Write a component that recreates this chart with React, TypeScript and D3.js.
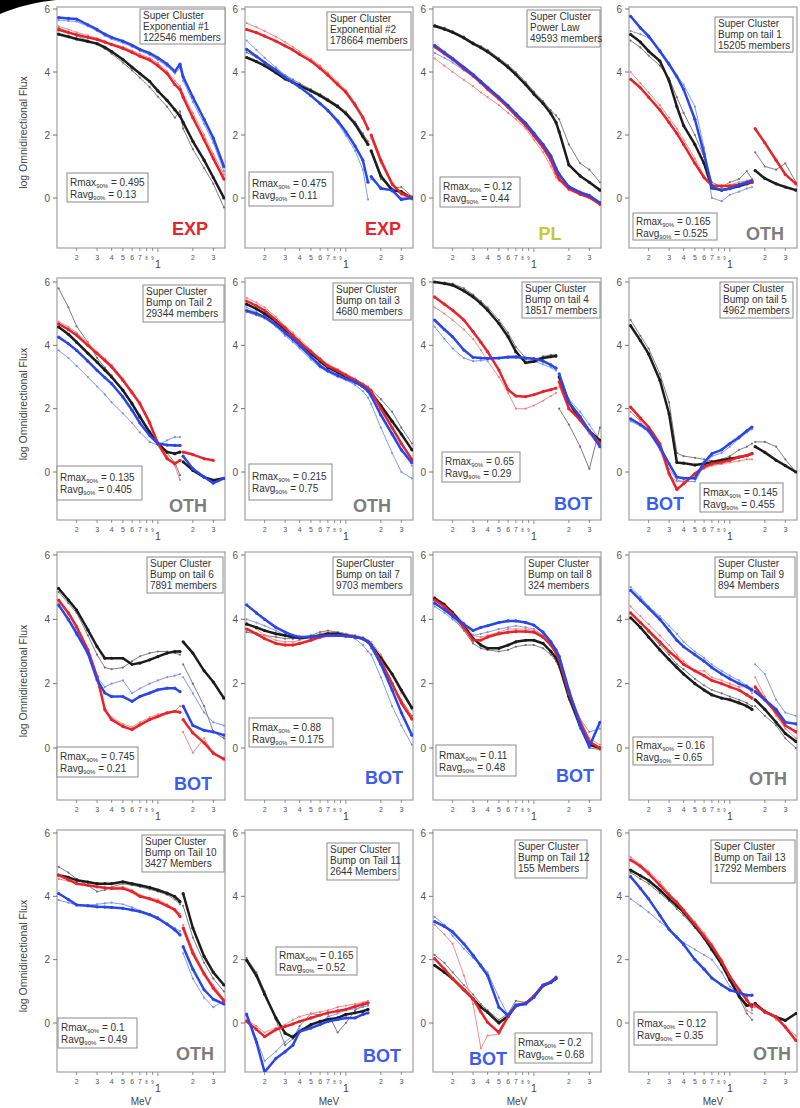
import React from 'react';
import * as d3 from 'd3';

const N = null;
// Energy grid (MeV) shared by every series
const ENERGY = [0.14, 0.17, 0.2, 0.25, 0.3, 0.35, 0.4, 0.5, 0.6, 0.7, 0.85, 1.0, 1.2, 1.4, 1.55, 1.65, 2.0, 2.5, 3.0, 3.7];

// Panel 1 - Exponential #1
const s01Black = [5.2, 5.12, 5.05, 4.97, 4.9, 4.78, 4.65, 4.4, 4.15, 3.95, 3.7, 3.4, 3.1, 2.8, 2.6, 2.4, 1.8, 1.2, 0.65, 0.0];
const s01BlackThin = [5.4, 5.28, 5.15, 5.0, 4.88, 4.74, 4.58, 4.3, 4.05, 3.82, 3.52, 3.22, 2.9, 2.55, 2.75, 2.2, 1.55, 0.95, 0.45, -0.3];
const s01Red = [5.34, 5.25, 5.18, 5.1, 5.03, 4.95, 4.87, 4.75, 4.62, 4.5, 4.38, 4.2, 3.95, 3.6, 3.45, 3.2, 2.55, 1.85, 1.25, 0.6];
const s01RedThin = [5.45, 5.35, 5.26, 5.16, 5.07, 4.98, 4.9, 4.8, 4.68, 4.57, 4.45, 4.28, 4.03, 3.72, 3.55, 3.3, 2.7, 2.0, 1.4, 0.75];
const s01Blue = [5.73, 5.7, 5.68, 5.5, 5.35, 5.2, 5.1, 4.98, 4.85, 4.72, 4.6, 4.45, 4.25, 4.02, 4.25, 3.85, 3.2, 2.5, 1.9, 1.0];
const s01BlueThin = [5.65, 5.62, 5.6, 5.45, 5.3, 5.15, 5.04, 4.92, 4.8, 4.67, 4.54, 4.38, 4.18, 3.95, 4.12, 3.72, 3.05, 2.35, 1.75, 0.85];

// Panel 2 - Exponential #2
const s02Black = [4.46, 4.33, 4.2, 3.98, 3.78, 3.67, 3.57, 3.4, 3.25, 3.1, 2.9, 2.68, 2.35, 1.95, 1.7, 1.5, 0.7, 0.25, 0.2, 0.0];
const s02BlackThin = [4.62, 4.47, 4.32, 4.1, 3.9, 3.76, 3.64, 3.45, 3.3, 3.15, 2.95, 2.74, 2.42, 2.05, 1.8, 1.45, 0.6, 0.3, 0.35, 0.05];
const s02Red = [5.35, 5.25, 5.14, 4.98, 4.83, 4.7, 4.56, 4.35, 4.12, 3.9, 3.6, 3.36, 2.95, 2.55, 2.2, 2.0, 1.2, 0.45, 0.15, 0.0];
const s02RedThin = [5.55, 5.42, 5.3, 5.12, 4.95, 4.8, 4.65, 4.42, 4.2, 3.98, 3.68, 3.42, 3.02, 2.6, 2.15, 1.9, 1.1, 0.4, 0.1, -0.05];
const s02Blue = [4.72, 4.5, 4.3, 4.05, 3.83, 3.67, 3.52, 3.25, 3.0, 2.78, 2.45, 2.1, 1.65, 1.2, 0.5, 0.68, 0.3, 0.25, -0.05, 0.0];
const s02BlueThin = [5.0, 4.7, 4.45, 4.15, 3.9, 3.72, 3.55, 3.25, 2.98, 2.74, 2.38, 1.98, 1.5, 0.9, -0.05, 0.6, 0.35, 0.2, 0.0, 0.0];

// Panel 3 - Power Law
const s03Black = [5.46, 5.36, 5.26, 5.08, 4.9, 4.77, 4.64, 4.38, 4.15, 3.92, 3.6, 3.3, 3.0, 2.68, 2.4, 2.1, 1.05, 0.7, 0.5, 0.25];
const s03BlackThin = [5.5, 5.4, 5.3, 5.12, 4.94, 4.82, 4.7, 4.44, 4.22, 4.0, 3.68, 3.38, 3.08, 2.78, 2.62, 2.5, 1.7, 1.1, 0.9, 0.5];
const s03Red = [4.8, 4.58, 4.4, 4.1, 3.88, 3.66, 3.45, 3.15, 2.88, 2.62, 2.3, 1.98, 1.6, 1.2, 0.8, 0.6, 0.3, 0.12, 0.02, -0.2];
const s03RedThin = [4.43, 4.2, 4.0, 3.75, 3.55, 3.35, 3.2, 2.95, 2.7, 2.5, 2.2, 1.85, 1.45, 1.0, 0.65, 0.55, 0.25, 0.1, 0.0, -0.2];
const s03Blue = [4.85, 4.62, 4.43, 4.15, 3.92, 3.7, 3.51, 3.2, 2.93, 2.68, 2.38, 2.06, 1.7, 1.34, 0.95, 0.75, 0.36, 0.18, 0.08, -0.15];
const s03BlueThin = [4.6, 4.45, 4.3, 4.05, 3.85, 3.65, 3.48, 3.18, 2.9, 2.65, 2.35, 2.02, 1.65, 1.3, 0.9, 0.8, 0.38, 0.2, 0.1, -0.15];

// Panel 4 - Bump on tail 1
const s04Black = [5.19, 4.95, 4.66, 4.35, 3.72, 2.9, 2.3, 1.7, 1.1, 0.32, 0.25, 0.3, 0.38, 0.45, 0.5, 0.87, 0.62, 0.45, 0.35, 0.25];
const s04BlackThin = [5.0, 4.78, 4.52, 4.2, 3.8, 3.2, 2.7, 2.0, 1.3, 0.5, 0.35, 0.5, 0.6, 0.85, 0.6, 1.45, 1.0, 0.9, 1.1, 0.5];
const s04Red = [3.77, 3.5, 3.2, 2.8, 2.4, 2.05, 1.7, 1.1, 0.65, 0.4, 0.38, 0.38, 0.42, 0.48, 0.5, 2.2, 1.75, 1.2, 0.75, 0.45];
const s04RedThin = [4.0, 3.65, 3.35, 2.95, 2.55, 2.2, 1.85, 1.25, 0.7, 0.4, 0.4, 0.42, 0.5, 0.55, 0.6, N, N, N, N, N];
const s04Blue = [5.77, 5.4, 5.14, 4.66, 4.24, 3.85, 3.45, 2.5, 1.4, 0.35, 0.25, 0.3, 0.42, 0.5, 0.55, N, N, N, N, N];
const s04BlueThin = [5.3, 5.2, 5.08, 4.7, 4.3, 3.9, 3.6, 2.9, 1.6, 0.0, -0.1, 0.1, 0.2, 0.3, 0.35, N, N, N, N, N];

// Panel 5 - Bump on Tail 2
const s05Black = [4.58, 4.35, 4.1, 3.75, 3.47, 3.22, 3.0, 2.58, 2.15, 1.74, 1.25, 0.9, 0.63, 0.58, 0.63, 0.32, 0.05, -0.16, -0.26, -0.2];
const s05BlackThin = [5.8, 5.2, 4.6, 4.1, 3.6, 3.3, 3.05, 2.6, 2.2, 1.8, 1.3, 0.95, 0.6, 0.3, -0.1, N, N, N, N, N];
const s05Red = [4.68, 4.5, 4.32, 4.0, 3.74, 3.52, 3.32, 2.9, 2.5, 2.16, 1.55, 0.9, 0.42, 0.26, 0.37, 0.63, 0.55, 0.42, 0.37, N];
const s05RedThin = [4.75, 4.58, 4.4, 4.08, 3.8, 3.58, 3.38, 2.95, 2.55, 2.2, 1.6, 0.95, 0.5, 0.2, -0.25, N, N, N, N, N];
const s05Blue = [4.26, 4.05, 3.84, 3.5, 3.21, 2.98, 2.79, 2.37, 1.95, 1.55, 1.15, 0.9, 0.85, 0.84, 0.84, 0.5, 0.1, -0.16, -0.35, -0.2];
const s05BlueThin = [3.84, 3.6, 3.35, 3.0, 2.7, 2.45, 2.2, 1.85, 1.55, 1.25, 0.95, 0.85, 1.0, 1.1, 1.1, N, N, N, N, N];

// Panel 6 - Bump on tail 3
const s06Black = [5.3, 5.15, 5.0, 4.75, 4.5, 4.3, 4.1, 3.75, 3.5, 3.3, 3.15, 3.0, 2.85, 2.7, 2.6, 2.5, 2.1, 1.6, 1.2, 0.7];
const s06BlackThin = [5.05, 4.95, 4.85, 4.6, 4.35, 4.15, 3.95, 3.6, 3.4, 3.2, 3.05, 2.9, 2.8, 2.7, 2.65, 2.6, 2.3, 1.9, 1.4, 0.9];
const s06Red = [5.4, 5.25, 5.1, 4.8, 4.55, 4.3, 4.1, 3.8, 3.55, 3.35, 3.2, 3.05, 2.9, 2.75, 2.65, 2.55, 2.0, 1.4, 0.9, 0.4];
const s06RedThin = [5.5, 5.35, 5.2, 4.9, 4.6, 4.4, 4.2, 3.85, 3.6, 3.4, 3.25, 3.1, 2.95, 2.8, 2.7, 2.5, 1.8, 1.2, 0.7, 0.2];
const s06Blue = [5.1, 5.0, 4.9, 4.65, 4.4, 4.2, 4.0, 3.65, 3.35, 3.2, 3.05, 2.95, 2.85, 2.7, 2.55, 2.4, 1.8, 1.2, 0.7, 0.3];
const s06BlueThin = [5.2, 5.05, 4.9, 4.6, 4.3, 4.1, 3.9, 3.55, 3.3, 3.15, 3.0, 2.9, 2.75, 2.55, 2.35, 2.15, 1.4, 0.6, 0.0, -0.2];

// Panel 7 - Bump on tail 4
const s07Black = [6.0, 5.95, 5.9, 5.72, 5.53, 5.32, 5.11, 4.69, 4.27, 3.8, 3.45, 3.49, 3.6, 3.64, 3.66, 3.0, 2.2, 1.65, 1.3, 1.0];
const s07BlackThin = [6.0, 5.98, 5.95, 5.8, 5.6, 5.4, 5.2, 4.8, 4.4, 3.95, 3.6, 3.55, 3.65, 3.7, 3.7, 2.0, 1.5, 0.8, 0.1, 1.4];
const s07Red = [5.53, 5.3, 5.11, 4.8, 4.43, 4.1, 3.8, 3.22, 2.6, 2.4, 2.38, 2.44, 2.54, 2.6, 2.65, 2.85, 2.0, 1.65, 1.3, 0.9];
const s07RedThin = [5.2, 5.0, 4.8, 4.5, 4.2, 3.85, 3.5, 3.0, 2.5, 2.0, 2.0, 2.1, 2.25, 2.4, 2.5, 2.7, 2.0, 1.6, 1.2, 0.8];
const s07Blue = [4.8, 4.5, 4.27, 3.85, 3.62, 3.6, 3.59, 3.6, 3.63, 3.64, 3.6, 3.58, 3.5, 3.38, 3.28, 3.1, 2.2, 1.75, 1.3, 0.8];
const s07BlueThin = [4.59, 4.2, 3.9, 3.6, 3.5, 3.52, 3.55, 3.58, 3.6, 3.6, 3.55, 3.5, 3.4, 3.3, 3.2, 3.0, 2.3, 1.9, 1.5, 1.0];

// Panel 8 - Bump on tail 5
const s08Black = [4.62, 4.15, 3.73, 2.9, 1.84, 0.3, 0.28, 0.22, 0.26, 0.31, 0.37, 0.42, 0.47, 0.52, 0.58, 0.8, 0.62, 0.37, 0.2, 0.0];
const s08BlackThin = [4.8, 4.3, 3.9, 3.1, 2.2, 0.6, 0.5, 0.45, 0.4, 0.35, 0.4, 0.5, 0.7, 0.8, 0.9, 0.95, 0.95, 0.8, 0.4, 0.0];
const s08Red = [2.05, 1.7, 1.42, 0.89, -0.05, -0.55, -0.37, -0.05, 0.16, 0.26, 0.31, 0.37, 0.47, 0.52, 0.58, N, N, N, N, N];
const s08RedThin = [1.9, 1.6, 1.3, 0.7, -0.1, -0.3, -0.3, -0.1, 0.1, 0.2, 0.25, 0.3, 0.35, 0.4, 0.4, N, N, N, N, N];
const s08Blue = [1.68, 1.5, 1.31, 0.79, 0.26, -0.16, -0.2, -0.2, 0.3, 0.58, 0.7, 0.9, 1.1, 1.3, 1.42, N, N, N, N, N];
const s08BlueThin = [1.6, 1.45, 1.25, 0.7, 0.1, -0.25, -0.3, -0.3, 0.2, 0.5, 0.6, 0.8, 1.05, 1.25, 1.35, N, N, N, N, N];

// Panel 9 - Bump on tail 6
const s09Black = [4.96, 4.6, 4.29, 3.67, 3.15, 2.79, 2.79, 2.79, 2.6, 2.64, 2.74, 2.84, 2.95, 3.0, 3.0, 3.3, 2.95, 2.4, 2.05, 1.55];
const s09BlackThin = [4.85, 4.5, 4.2, 3.5, 2.9, 2.5, 2.45, 2.5, 2.7, 2.85, 2.95, 3.0, 3.0, 2.95, 2.9, 2.6, 2.0, 1.3, 0.5, 0.3];
const s09Red = [4.6, 4.2, 3.77, 3.05, 2.22, 1.19, 0.88, 0.67, 0.57, 0.72, 0.88, 0.98, 1.09, 1.14, 1.11, 0.88, 0.47, 0.16, -0.16, -0.35];
const s09RedThin = [4.55, 4.15, 3.7, 3.0, 2.1, 1.2, 0.95, 0.75, 0.65, 0.8, 0.95, 1.05, 1.1, 1.15, 1.3, 0.5, -0.15, 0.3, -0.2, -0.3];
const s09Blue = [4.45, 4.0, 3.57, 2.95, 2.12, 1.71, 1.6, 1.6, 1.45, 1.6, 1.71, 1.81, 1.86, 1.86, 1.75, 1.3, 0.7, 0.55, 0.5, 0.4];
const s09BlueThin = [4.4, 3.95, 3.5, 2.9, 2.2, 1.9, 2.0, 2.1, 1.7, 1.85, 2.0, 2.1, 2.2, 2.25, 2.3, 2.2, 1.7, 1.1, 0.8, 0.7];

// Panel 10 - Bump on tail 7
const s10Black = [3.85, 3.75, 3.65, 3.55, 3.5, 3.45, 3.42, 3.45, 3.5, 3.55, 3.55, 3.5, 3.45, 3.4, 3.3, 3.2, 2.8, 2.3, 1.8, 1.25];
const s10BlackThin = [3.6, 3.55, 3.5, 3.45, 3.4, 3.4, 3.45, 3.5, 3.6, 3.65, 3.6, 3.55, 3.5, 3.4, 3.3, 3.1, 2.6, 2.0, 1.5, 1.0];
const s10Red = [3.7, 3.55, 3.4, 3.25, 3.2, 3.2, 3.25, 3.35, 3.45, 3.5, 3.5, 3.48, 3.45, 3.4, 3.3, 3.2, 2.7, 2.0, 1.4, 0.9];
const s10RedThin = [3.9, 3.7, 3.5, 3.35, 3.3, 3.3, 3.35, 3.45, 3.55, 3.6, 3.6, 3.55, 3.5, 3.45, 3.35, 3.3, 2.9, 2.3, 1.7, 1.2];
const s10Blue = [4.45, 4.2, 4.0, 3.75, 3.6, 3.5, 3.45, 3.45, 3.48, 3.5, 3.5, 3.48, 3.45, 3.4, 3.3, 3.2, 2.6, 1.8, 1.1, 0.4];
const s10BlueThin = [4.0, 3.9, 3.8, 3.65, 3.5, 3.4, 3.4, 3.45, 3.5, 3.55, 3.6, 3.55, 3.4, 3.2, 3.0, 2.9, 2.2, 1.3, 0.7, 0.1];

// Panel 11 - Bump on tail 8
const s11Black = [4.65, 4.45, 4.2, 3.8, 3.4, 3.2, 3.1, 3.1, 3.2, 3.3, 3.35, 3.35, 3.25, 3.0, 2.8, 2.6, 1.6, 0.7, 0.1, 0.0];
const s11BlackThin = [4.5, 4.3, 4.05, 3.65, 3.25, 3.1, 3.05, 3.0, 3.05, 3.15, 3.2, 3.2, 3.1, 2.9, 2.7, 2.5, 1.5, 0.6, 0.0, -0.05];
const s11Red = [4.6, 4.4, 4.15, 3.75, 3.35, 3.35, 3.45, 3.55, 3.6, 3.62, 3.62, 3.6, 3.45, 3.2, 2.95, 2.75, 1.7, 0.8, 0.2, 0.0];
const s11RedThin = [4.7, 4.5, 4.25, 3.9, 3.5, 3.45, 3.5, 3.6, 3.7, 3.7, 3.7, 3.65, 3.5, 3.25, 3.0, 2.8, 1.8, 0.9, 0.3, 0.1];
const s11Blue = [4.5, 4.3, 4.1, 3.85, 3.65, 3.75, 3.8, 3.9, 3.95, 3.95, 3.9, 3.82, 3.6, 3.3, 3.05, 2.85, 1.8, 0.7, 0.05, 0.8];
const s11BlueThin = [4.4, 4.2, 4.0, 3.7, 3.5, 3.55, 3.6, 3.7, 3.75, 3.8, 3.75, 3.7, 3.5, 3.2, 2.9, 2.7, 1.7, 0.9, 0.5, 0.6];

// Panel 12 - Bump on Tail 9
const s12Black = [4.05, 3.75, 3.45, 3.05, 2.75, 2.5, 2.3, 2.0, 1.8, 1.65, 1.55, 1.5, 1.4, 1.3, 1.2, 1.5, 1.2, 0.8, 0.45, 0.2];
const s12BlackThin = [4.2, 3.9, 3.6, 3.2, 2.9, 2.6, 2.45, 2.15, 1.95, 1.8, 1.7, 1.6, 1.5, 1.4, 1.3, 1.3, 1.0, 0.7, 0.3, 0.0];
const s12Red = [4.2, 3.9, 3.65, 3.3, 3.0, 2.8, 2.6, 2.4, 2.25, 2.1, 2.0, 1.9, 1.8, 1.65, 1.55, 1.9, 1.5, 1.1, 0.7, 0.5];
const s12RedThin = [4.4, 4.1, 3.85, 3.5, 3.2, 2.9, 2.7, 2.4, 2.4, 2.2, 2.1, 2.0, 1.9, 1.9, 1.7, 2.2, 1.6, 1.0, 0.6, 0.3];
const s12Blue = [4.9, 4.6, 4.35, 4.0, 3.65, 3.35, 3.15, 2.9, 2.7, 2.5, 2.3, 2.15, 2.0, 1.9, 1.8, 1.75, 1.5, 1.2, 0.8, 0.75];
const s12BlueThin = [5.0, 4.7, 4.4, 4.1, 3.8, 3.55, 3.3, 3.0, 2.8, 2.6, 2.4, 2.25, 2.1, 1.95, 1.85, 2.6, 2.3, 1.5, 1.1, 1.0];

// Panel 13 - Bump on Tail 10
const s13Black = [4.67, 4.6, 4.51, 4.45, 4.4, 4.4, 4.4, 4.46, 4.4, 4.35, 4.28, 4.2, 4.1, 3.99, 3.83, 4.09, 3.0, 2.1, 1.6, 1.2];
const s13BlackThin = [4.93, 4.75, 4.55, 4.35, 4.15, 4.2, 4.3, 4.4, 4.35, 4.3, 4.22, 4.15, 4.05, 3.9, 3.75, 3.7, 2.7, 1.9, 1.4, 1.0];
const s13Red = [4.67, 4.53, 4.4, 4.35, 4.3, 4.27, 4.25, 4.25, 4.15, 4.0, 3.92, 3.83, 3.7, 3.57, 3.36, 3.0, 2.2, 1.55, 1.1, 0.7];
const s13RedThin = [4.55, 4.48, 4.42, 4.36, 4.3, 4.25, 4.28, 4.3, 4.2, 4.05, 3.95, 3.9, 3.75, 3.6, 3.45, 3.1, 2.3, 1.6, 1.2, 0.75];
const s13Blue = [4.09, 3.9, 3.73, 3.7, 3.67, 3.66, 3.65, 3.62, 3.57, 3.52, 3.42, 3.3, 3.12, 2.94, 2.78, 2.41, 1.7, 1.05, 0.75, 0.6];
const s13BlueThin = [3.88, 3.8, 3.72, 3.72, 3.75, 3.78, 3.8, 3.75, 3.65, 3.55, 3.45, 3.35, 3.15, 3.0, 2.9, 2.2, 1.4, 0.8, 0.5, 0.7];

// Panel 14 - Bump on Tail 11
const s14Black = [1.98, 1.5, 0.91, 0.16, -0.32, -0.45, -0.27, -0.05, 0.05, 0.11, 0.16, 0.27, 0.32, 0.37, 0.43, N, N, N, N, N];
const s14BlackThin = [2.05, 1.6, 1.0, 0.1, -0.7, -0.5, -0.1, 0.3, 0.25, 0.3, -0.3, 0.0, 0.4, 0.55, 0.6, N, N, N, N, N];
const s14Red = [0.05, -0.2, -0.43, -0.21, -0.11, -0.03, 0.05, 0.16, 0.25, 0.32, 0.38, 0.43, 0.52, 0.59, 0.64, N, N, N, N, N];
const s14RedThin = [0.1, -0.1, -0.3, -0.15, -0.05, 0.1, 0.2, 0.3, 0.35, 0.4, 0.5, 0.55, 0.6, 0.65, 0.7, N, N, N, N, N];
const s14Blue = [0.27, -0.6, -1.55, -1.12, -0.91, -0.7, -0.27, -0.16, -0.05, 0.05, 0.11, 0.16, 0.16, 0.27, 0.32, N, N, N, N, N];
const s14BlueThin = [0.3, -0.5, -1.2, -0.9, -0.6, -0.4, -0.2, -0.1, 0.0, 0.2, 0.3, 0.4, 0.45, 0.5, 0.55, N, N, N, N, N];

// Panel 15 - Bump on Tail 12
const s15Black = [1.82, 1.6, 1.4, 1.05, 0.76, 0.5, 0.34, 0.0, 0.22, 0.55, 0.62, 0.84, 1.18, 1.28, 1.4, N, N, N, N, N];
const s15BlackThin = [2.15, 1.9, 1.6, 1.2, 0.9, 0.6, 0.4, 0.1, 0.3, 0.7, 0.65, 0.85, 1.2, 1.3, 1.42, N, N, N, N, N];
const s15Red = [2.03, 1.7, 1.4, 1.05, 0.76, 0.35, 0.02, -0.3, 0.2, 0.55, 0.62, 0.85, 1.2, 1.3, 1.45, N, N, N, N, N];
const s15RedThin = [3.1, 2.8, 2.5, 1.5, 0.6, -0.8, -0.4, -0.35, 0.2, 0.5, 0.6, 0.8, 1.15, 1.25, 1.4, N, N, N, N, N];
const s15Blue = [3.2, 3.05, 2.88, 2.5, 2.14, 1.8, 1.5, 0.5, 0.23, 0.55, 0.6, 0.81, 1.19, 1.29, 1.42, N, N, N, N, N];
const s15BlueThin = [3.35, 3.1, 2.75, 2.35, 2.05, 1.85, 1.6, 0.8, 0.25, 0.6, 0.65, 0.85, 1.2, 1.3, 1.45, N, N, N, N, N];

// Panel 16 - Bump on Tail 13
const s16Black = [4.83, 4.65, 4.5, 4.2, 3.92, 3.7, 3.5, 3.07, 2.7, 2.32, 1.85, 1.36, 0.85, 0.55, 0.57, 0.62, 0.35, 0.19, 0.08, 0.3];
const s16BlackThin = [4.75, 4.55, 4.4, 4.1, 3.85, 3.6, 3.4, 3.0, 2.65, 2.3, 1.9, 1.4, 0.8, 0.3, 0.1, 0.6, 0.4, 0.2, 0.1, 0.3];
const s16Red = [5.15, 4.95, 4.72, 4.35, 4.03, 3.8, 3.55, 3.12, 2.75, 2.43, 1.95, 1.47, 1.05, 0.72, 0.51, 0.57, 0.35, 0.19, -0.13, -0.55];
const s16RedThin = [5.25, 5.0, 4.8, 4.45, 4.1, 3.85, 3.6, 3.2, 2.85, 2.5, 2.0, 1.5, 0.9, 0.4, 0.3, 0.5, 0.4, 0.1, -0.1, -0.4];
const s16Blue = [4.62, 4.25, 3.92, 3.4, 2.96, 2.7, 2.48, 2.0, 1.7, 1.42, 1.2, 1.04, 0.95, 0.88, 0.88, N, N, N, N, N];
const s16BlueThin = [3.92, 3.7, 3.5, 3.2, 2.96, 2.75, 2.54, 2.32, 2.15, 2.0, 1.6, 1.15, 0.95, 0.83, 0.4, N, N, N, N, N];

// Panel texts
const HEADERS = ['Super Cluster', 'Super Cluster', 'Super Cluster', 'Super Cluster', 'Super Cluster', 'Super Cluster', 'Super Cluster', 'Super Cluster', 'Super Cluster', 'SuperCluster', 'Super Cluster', 'Super Cluster', 'Super Cluster', 'Super Cluster', 'Super Cluster', 'Super Cluster'];
const CLUSTER_NAMES = ['Exponential #1', 'Exponential #2', 'Power Law', 'Bump on tail 1', 'Bump on Tail 2', 'Bump on tail 3', 'Bump on tail 4', 'Bump on tail 5', 'Bump on tail 6', 'Bump on tail 7', 'Bump on tail 8', 'Bump on Tail 9', 'Bump on Tail 10', 'Bump on Tail 11', 'Bump on Tail 12', 'Bump on Tail 13'];
const MEMBERS = ['122546 members', '178664 members', '49593 members', '15205 members', '29344 members', '4680 members', '18517 members', '4962 members', '7891 members', '9703 members', '324 members', '894 Members', '3427 Members', '2644 Members', '155 Members', '17292 Members'];
const RMAX = ['0.495', '0.475', '0.12', '0.165', '0.135', '0.215', '0.65', '0.145', '0.745', '0.88', '0.11', '0.16', '0.1', '0.165', '0.2', '0.12'];
const RAVG = ['0.13', '0.11', '0.44', '0.525', '0.405', '0.75', '0.29', '0.455', '0.21', '0.175', '0.48', '0.65', '0.49', '0.52', '0.68', '0.35'];
const CLASSES = ['EXP', 'EXP', 'PL', 'OTH', 'OTH', 'OTH', 'BOT', 'BOT', 'BOT', 'BOT', 'BOT', 'OTH', 'OTH', 'BOT', 'BOT', 'OTH'];
const Y_TICKS = [0, 2, 4, 6];
const X_TICKS = [0.2, 0.3, 0.4, 0.5, 0.6, 0.7, 0.8, 0.9, 1, 2, 3];
const X_MINOR_LABELS = ['2', '3', '4', '5', '6', '7', '8', '9', '', '2', '3'];

// Series tables built from the named arrays
const SERIES = [
  [s01Black, s01BlackThin, s01Red, s01RedThin, s01Blue, s01BlueThin],
  [s02Black, s02BlackThin, s02Red, s02RedThin, s02Blue, s02BlueThin],
  [s03Black, s03BlackThin, s03Red, s03RedThin, s03Blue, s03BlueThin],
  [s04Black, s04BlackThin, s04Red, s04RedThin, s04Blue, s04BlueThin],
  [s05Black, s05BlackThin, s05Red, s05RedThin, s05Blue, s05BlueThin],
  [s06Black, s06BlackThin, s06Red, s06RedThin, s06Blue, s06BlueThin],
  [s07Black, s07BlackThin, s07Red, s07RedThin, s07Blue, s07BlueThin],
  [s08Black, s08BlackThin, s08Red, s08RedThin, s08Blue, s08BlueThin],
  [s09Black, s09BlackThin, s09Red, s09RedThin, s09Blue, s09BlueThin],
  [s10Black, s10BlackThin, s10Red, s10RedThin, s10Blue, s10BlueThin],
  [s11Black, s11BlackThin, s11Red, s11RedThin, s11Blue, s11BlueThin],
  [s12Black, s12BlackThin, s12Red, s12RedThin, s12Blue, s12BlueThin],
  [s13Black, s13BlackThin, s13Red, s13RedThin, s13Blue, s13BlueThin],
  [s14Black, s14BlackThin, s14Red, s14RedThin, s14Blue, s14BlueThin],
  [s15Black, s15BlackThin, s15Red, s15RedThin, s15Blue, s15BlueThin],
  [s16Black, s16BlackThin, s16Red, s16RedThin, s16Blue, s16BlueThin],
];

// ---- layout & styles ----
const SPLIT = [false, true, false, true, true, false, true, true, true, false, false, true, true, true, true, true];
const COL_LEFT = [57, 245, 433, 629];
const ROW_GEOM = [
  { top: 7, y6: 9, y0: 198, bottom: 248 },
  { top: 278, y6: 282, y0: 472, bottom: 520 },
  { top: 552, y6: 555, y0: 748, bottom: 800 },
  { top: 830, y6: 833, y0: 1023, bottom: 1072 },
];
const PW = 168;
const INFO_BOX = [
  [83, 2, 85, 35], [82, 5, 84, 38], [94, 3, 73, 37], [86, 10, 78, 35],
  [86, 7, 81, 37], [88, 5, 78, 37], [89, 4, 78, 36], [91, 4, 73, 36],
  [90, 5, 76, 36], [88, 5, 78, 38], [92, 5, 75, 38], [86, 5, 80, 40],
  [85, 5, 82, 37], [82, 13, 72, 37], [82, 10, 72, 38], [82, 10, 84, 43],
];
const R_BOX = [
  [10, 166, 81, 29], [4, 165, 84, 34], [7, 170, 80, 30], [4, 206, 84, 27],
  [0, 188, 85, 34], [4, 186, 83, 36], [9, 174, 78, 30], [71, 205, 83, 29],
  [0, 195, 81, 30], [4, 166, 84, 29], [3, 193, 80, 31], [4, 185, 80, 28],
  [1, 188, 79, 30], [31, 117, 81, 28], [82, 203, 77, 30], [5, 182, 83, 33],
];
const CLASS_POS = [
  [133, 228], [138, 228], [117, 233], [136, 233],
  [131, 234], [127, 234], [140, 232], [36, 232],
  [136, 238], [139, 232], [142, 230], [139, 233],
  [138, 230], [137, 232], [55, 235], [143, 230],
];
const CLASS_COLOR = { EXP: '#e8232a', PL: '#c8c832', OTH: '#7d7d7d', BOT: '#3b5cf0' };
const SERIES_STYLE = [
  { stroke: '#1c1c1c', w: 2.5, r: 1.6 },
  { stroke: '#707070', w: 0.9, r: 1.1 },
  { stroke: '#e8232a', w: 2.5, r: 1.6 },
  { stroke: '#f27f7f', w: 0.9, r: 1.1 },
  { stroke: '#2a46e8', w: 2.5, r: 1.6 },
  { stroke: '#7690f2', w: 0.9, r: 1.1 },
];
const DRAW_ORDER = [1, 3, 5, 0, 2, 4];
const FONT = '"Liberation Sans", Arial, Helvetica, sans-serif';

function Panel({ idx }: { idx: number }) {
  const col = idx % 4;
  const row = Math.floor(idx / 4);
  const g = ROW_GEOM[row];
  const left = COL_LEFT[col];
  const right = left + PW;
  const x = d3.scaleLog().domain([0.1356, 3.78]).range([left, right]);
  const y = d3.scaleLinear().domain([0, 6]).range([g.y0, g.y6]);
  const clipId = `clip${idx}`;
  const line = d3
    .line<[number, number | null]>()
    .defined((d) => d[1] !== null && d[1] !== undefined)
    .x((d) => x(d[0]))
    .y((d) => y(d[1] as number));

  const seriesPaths = DRAW_ORDER.map((si) => {
    const vals = SERIES[idx][si];
    const pts: [number, number | null][] = ENERGY.map((e, k) => [e, vals[k]]);
    const segs = SPLIT[idx] ? [pts.slice(0, 15), pts.slice(15)] : [pts];
    const st = SERIES_STYLE[si];
    return (
      <g key={si}>
        {segs.map((s, k) => (
          <path key={k} d={line(s) || ''} fill="none" stroke={st.stroke} strokeWidth={st.w} strokeLinejoin="round" />
        ))}
        {pts
          .filter((p) => p[1] !== null)
          .map((p, k) => (
            <circle key={k} cx={x(p[0])} cy={y(p[1] as number)} r={st.r} fill={st.stroke} />
          ))}
      </g>
    );
  });

  const ib = INFO_BOX[idx];
  const rb = R_BOX[idx];
  const cp = CLASS_POS[idx];
  const cls = CLASSES[idx];

  return (
    <g fontFamily={FONT}>
      <defs>
        <clipPath id={clipId}>
          <rect x={left} y={g.top} width={PW} height={g.bottom - g.top} />
        </clipPath>
      </defs>
      <rect x={left} y={g.top} width={PW} height={g.bottom - g.top} fill="#fff" stroke="#a8a8a8" strokeWidth={1.3} />
      <g clipPath={`url(#${clipId})`}>{seriesPaths}</g>
      {Y_TICKS.map((t) => (
        <g key={t}>
          <line x1={left - 4} x2={left} y1={y(t)} y2={y(t)} stroke="#777" strokeWidth={1} />
          <text x={left - 7} y={y(t) + 3.5} fontSize={10} fill="#555" textAnchor="end">
            {t}
          </text>
        </g>
      ))}
      {X_TICKS.map((t, k) => (
        <g key={t}>
          <line x1={x(t)} x2={x(t)} y1={g.bottom} y2={g.bottom + (t === 1 ? 4 : 3)} stroke="#777" strokeWidth={0.8} />
          {t === 1 ? (
            <text x={x(t)} y={g.bottom + 20} fontSize={10.5} fill="#444" textAnchor="middle">
              1
            </text>
          ) : (
            <text
              x={x(t)}
              y={g.bottom + 12}
              fontSize={t === 0.8 || t === 0.9 ? 4.5 : 7}
              fill="#555"
              textAnchor="middle"
            >
              {X_MINOR_LABELS[k]}
            </text>
          )}
        </g>
      ))}
      {col === 0 && (
        <text
          transform={`translate(27,${(g.top + g.bottom) / 2 + 5}) rotate(-90)`}
          fontSize={10.5}
          fill="#444"
          textAnchor="middle"
        >
          log Omnidirectional Flux
        </text>
      )}
      {row === 3 && (
        <text x={left + PW / 2} y={g.bottom + 33} fontSize={10} fill="#444" textAnchor="middle">
          MeV
        </text>
      )}
      <rect x={left + ib[0]} y={g.top + ib[1]} width={ib[2]} height={ib[3]} fill="#fff" stroke="#8a8a8a" strokeWidth={1} />
      {[HEADERS[idx], CLUSTER_NAMES[idx], MEMBERS[idx]].map((s, k) => (
        <text key={k} x={left + ib[0] + 3} y={g.top + ib[1] + 10 + k * 11} fontSize={10} fill="#333">
          {s}
        </text>
      ))}
      <rect x={left + rb[0]} y={g.top + rb[1]} width={rb[2]} height={rb[3]} fill="#fff" stroke="#8a8a8a" strokeWidth={1} />
      <text x={left + rb[0] + 3} y={g.top + rb[1] + rb[3] / 2 - 2} fontSize={10} fill="#333">
        <tspan>Rmax</tspan>
        <tspan dy={2} fontSize={6}>90%</tspan>
        <tspan dy={-2}>{` = ${RMAX[idx]}`}</tspan>
      </text>
      <text x={left + rb[0] + 3} y={g.top + rb[1] + rb[3] / 2 + 10} fontSize={10} fill="#333">
        <tspan>Ravg</tspan>
        <tspan dy={2} fontSize={6}>90%</tspan>
        <tspan dy={-2}>{`  = ${RAVG[idx]}`}</tspan>
      </text>
      <text
        x={left + cp[0]}
        y={g.top + cp[1]}
        fontSize={18}
        fontWeight="bold"
        fill={(CLASS_COLOR as any)[cls]}
        textAnchor="middle"
      >
        {cls}
      </text>
    </g>
  );
}

export default function App() {
  return (
    <svg
      width={800}
      height={1108}
      viewBox="0 0 800 1108"
      style={{ position: 'absolute', left: 0, top: 0, background: '#fff' }}
    >
      <rect x={0} y={0} width={800} height={1108} fill="#fff" />
      {SERIES.map((_, i) => (
        <Panel key={i} idx={i} />
      ))}
      <path d="M0,0 L56,0 C36,2 16,7 0,14 Z" fill="#000" />
    </svg>
  );
}
